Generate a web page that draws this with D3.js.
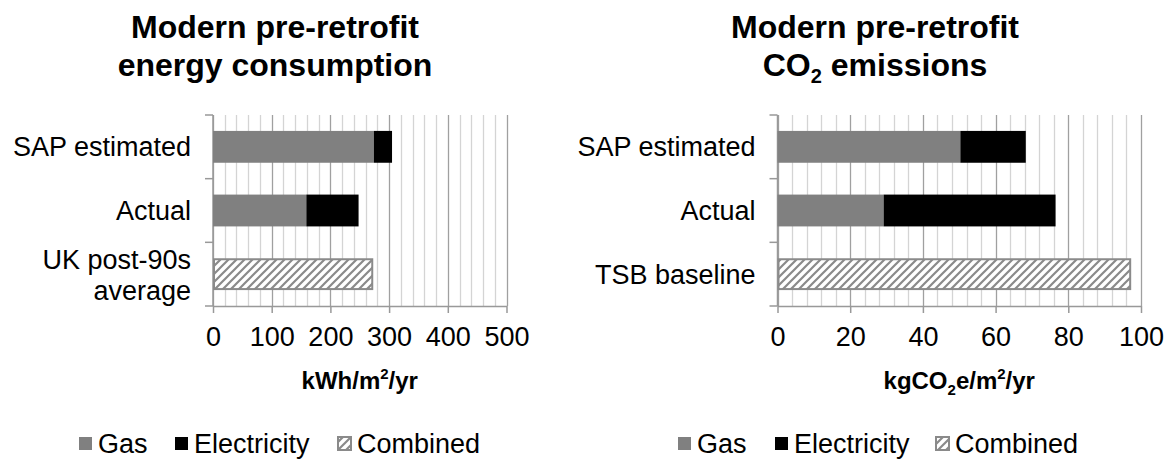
<!DOCTYPE html>
<meta charset="utf-8">
<style>
body {
  margin: 0;
  background: #fff;
  font-family: "Liberation Sans", Arial, sans-serif;
}
.title { font-weight: bold; font-size: 32px; }
.axisTitle { font-weight: bold; font-size: 24px; }
.cat, .legend text { font-size: 27px; fill: #000; }
</style>
<svg width="1170" height="460"></svg>
<script src="https://cdn.jsdelivr.net/npm/d3@7"></script>
<script>

// data
var energyCats = ["SAP estimated", "Actual", "UK post-90s|average"];
var energyGas = [274, 159, 0];
var energyElec = [31, 89, 0];
var energyCombined = [0, 0, 273];
var energyTicks = [0, 100, 200, 300, 400, 500];

var co2Cats = ["SAP estimated", "Actual", "TSB baseline"];
var co2Gas = [50.3, 29.2, 0];
var co2Elec = [18, 47.3, 0];
var co2Combined = [0, 0, 97.3];
var co2Ticks = [0, 20, 40, 60, 80, 100];

var legendNames = ["Gas", "Electricity", "Combined"];

var svg = d3.select("svg");

var defs = svg.append("defs");
var pat = defs.append("pattern")
    .attr("id", "hatch")
    .attr("patternUnits", "userSpaceOnUse")
    .attr("width", 8).attr("height", 8);
pat.append("rect").attr("width", 8).attr("height", 8).attr("fill", "#fff");
pat.append("path")
    .attr("d", "M-2,2 l4,-4 M0,8 l8,-8 M6,10 l4,-4")
    .attr("stroke", "#8a8a8a")
    .attr("stroke-width", 2.2);

function chart(opt) {
  var g = svg.append("g");
  var x = d3.scaleLinear().domain([0, opt.max]).range([opt.x0, opt.x1]);
  var y = d3.scaleBand().domain(d3.range(opt.cats.length)).range([115, 306]).paddingInner(0.5).paddingOuter(0.25);
  var top = 115, bottom = 306;

  // vertical gridlines
  var minor = d3.range(0, opt.max + 0.001, opt.minor);
  g.selectAll(".grid").data(minor).enter().append("line")
      .attr("x1", function(d) { return Math.round(x(d)) + 0.5; })
      .attr("x2", function(d) { return Math.round(x(d)) + 0.5; })
      .attr("y1", top).attr("y2", bottom)
      .attr("stroke", function(d) { return (Math.abs(d % opt.major) < 1e-6) ? "#a0a0a0" : "#d4d4d4"; })
      .attr("stroke-width", 1.3);

  // y axis with category boundary ticks
  g.append("line").attr("x1", x(0)).attr("x2", x(0)).attr("y1", top).attr("y2", bottom)
      .attr("stroke", "#999").attr("stroke-width", 1.5);
  var bounds = d3.range(opt.cats.length + 1).map(function(i) { return top + i * (bottom - top) / opt.cats.length; });
  g.selectAll(".ytick").data(bounds).enter().append("line")
      .attr("x1", x(0) - 8).attr("x2", x(0))
      .attr("y1", function(d) { return d; }).attr("y2", function(d) { return d; })
      .attr("stroke", "#999").attr("stroke-width", 1.5);

  // x axis
  var ax = g.append("g").attr("transform", "translate(0," + bottom + ")")
      .call(d3.axisBottom(x).tickValues(opt.ticks).tickSize(7).tickPadding(14).tickSizeOuter(0));
  ax.select(".domain").attr("stroke", "#999").attr("stroke-width", 1.5);
  ax.selectAll(".tick line").attr("stroke", "#999").attr("stroke-width", 1.5);
  ax.selectAll(".tick text").attr("font-family", "Liberation Sans, Arial, sans-serif").attr("font-size", 27).attr("fill", "#000");

  // stacked bars
  opt.cats.forEach(function(c, i) {
    var yy = y(i), h = y.bandwidth();
    if (opt.gas[i] > 0)
      g.append("rect").attr("x", x(0)).attr("y", yy).attr("width", x(opt.gas[i]) - x(0)).attr("height", h)
        .attr("fill", "#808080");
    if (opt.elec[i] > 0)
      g.append("rect").attr("x", x(opt.gas[i])).attr("y", yy).attr("width", x(opt.gas[i] + opt.elec[i]) - x(opt.gas[i])).attr("height", h)
        .attr("fill", "#000");
    if (opt.comb[i] > 0)
      g.append("rect").attr("x", x(0) + 1).attr("y", yy + 1).attr("width", x(opt.comb[i]) - x(0) - 2).attr("height", h - 2)
        .attr("fill", "url(#hatch)").attr("stroke", "#8a8a8a").attr("stroke-width", 2);

    var lines = c.split("|");
    var cy = yy + h / 2;
    var t = g.append("text").attr("class", "cat").attr("text-anchor", "end")
        .attr("x", x(0) - 22).attr("y", cy - (lines.length - 1) * 15);
    lines.forEach(function(l, k) {
      t.append("tspan").attr("x", x(0) - 22).attr("dy", k === 0 ? "0.35em" : 31).text(l);
    });
  });

  // title
  var tt = g.append("text").attr("class", "title").attr("text-anchor", "middle").attr("x", opt.tx).attr("y", 38);
  tt.append("tspan").attr("x", opt.tx).text("Modern pre-retrofit");
  opt.title2(tt.append("tspan").attr("x", opt.tx).attr("y", 76));

  // axis title
  opt.axisTitle(g.append("text").attr("class", "axisTitle").attr("text-anchor", "middle")
      .attr("x", (opt.x0 + opt.x1) / 2).attr("y", 389));

  // legend
  var lg = g.append("g").attr("class", "legend").attr("transform", "translate(0,444)");
  var fills = ["#808080", "#000", "url(#hatch)"];
  legendNames.forEach(function(n, i) {
    var lx = opt.legendX[i];
    lg.append("rect").attr("x", lx).attr("y", -7).attr("width", 13).attr("height", 13)
      .attr("fill", fills[i]).attr("stroke", i === 2 ? "#8a8a8a" : "none").attr("stroke-width", 2);
    lg.append("text").attr("x", lx + 19).attr("y", 0).attr("dy", "0.35em").text(n);
  });
}

chart({
  cats: energyCats, gas: energyGas, elec: energyElec, comb: energyCombined,
  max: 500, minor: 20, major: 100, ticks: energyTicks,
  x0: 213, x1: 506.5, tx: 275,
  legendX: [79, 175, 338],
  title2: function(s) { s.text("energy consumption"); },
  axisTitle: function(t) {
    t.append("tspan").text("kWh/m");
    t.append("tspan").attr("font-size", 15).attr("dy", -10).text("2");
    t.append("tspan").attr("dy", 10).text("/yr");
  }
});

chart({
  cats: co2Cats, gas: co2Gas, elec: co2Elec, comb: co2Combined,
  max: 100, minor: 4, major: 20, ticks: co2Ticks,
  x0: 777.5, x1: 1141, tx: 875,
  legendX: [678, 775, 936],
  title2: function(s) {
    s.append("tspan").text("CO");
    s.append("tspan").attr("font-size", 20).attr("dy", 7).text("2");
    s.append("tspan").attr("dy", -7).text(" emissions");
  },
  axisTitle: function(t) {
    t.append("tspan").text("kgCO");
    t.append("tspan").attr("font-size", 15).attr("dy", 6).text("2");
    t.append("tspan").attr("dy", -6).text("e/m");
    t.append("tspan").attr("font-size", 15).attr("dy", -10).text("2");
    t.append("tspan").attr("dy", 10).text("/yr");
  }
});

</script>
